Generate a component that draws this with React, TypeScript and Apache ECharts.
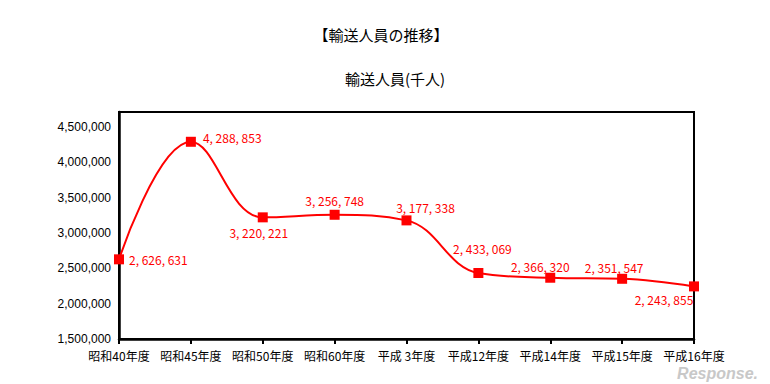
import React, { useEffect, useRef } from "react";
import * as echarts from "echarts";

const categories = ["昭和40年度", "昭和45年度", "昭和50年度", "昭和60年度", "平成 3年度", "平成12年度", "平成14年度", "平成15年度", "平成16年度"];
const passengers = [2626631, 4288853, 3220221, 3256748, 3177338, 2433069, 2366320, 2351547, 2243855];
const labelPositions: any[] = [
  { position: "right", offset: [0, 0] },
  { position: "right", offset: [2, -4] },
  { position: "bottom", offset: [-4, -1] },
  { position: "top", offset: [0, 2] },
  { position: "top", offset: [19, 3] },
  { position: "top", offset: [4, -9] },
  { position: "top", offset: [-10, 5] },
  { position: "top", offset: [-8, 5] },
  { position: "bottom", offset: [-30, -3] },
];

const fmt = (v: number) => v.toLocaleString("en-US").replace(/,/g, ", ");

export default function App() {
  const ref = useRef<HTMLDivElement>(null);
  useEffect(() => {
    const chart = echarts.init(ref.current!, null, { renderer: "svg" });
    chart.setOption({
      animation: false,
      backgroundColor: "#fff",
      title: [
        {
          text: "【輸送人員の推移】",
          left: 376,
          top: 22,
          textAlign: "center",
          textStyle: { fontFamily: "Noto Sans CJK JP", fontSize: 15, fontWeight: "normal", color: "#000" },
        },
        {
          text: "輸送人員(千人)",
          left: 390,
          top: 66,
          textAlign: "center",
          textStyle: { fontFamily: "Noto Sans CJK JP", fontSize: 15, fontWeight: "normal", color: "#000" },
        },
      ],
      grid: { left: 119, right: 76, top: 112, bottom: 45, show: true, borderColor: "#000", borderWidth: 2, backgroundColor: "transparent" },
      xAxis: {
        type: "category",
        data: categories,
        boundaryGap: false,
        axisLine: { lineStyle: { color: "#000", width: 2.5 } },
        axisTick: { show: true, length: 5, lineStyle: { color: "#000", width: 2 } },
        axisLabel: { color: "#000", fontFamily: "Noto Sans CJK JP", fontSize: 12, margin: 10, interval: 0 },
        splitLine: { show: false },
      },
      yAxis: {
        type: "value",
        min: 1500000,
        max: 4710000,
        interval: 500000,
        axisLine: { show: true, lineStyle: { color: "#000", width: 2.5 } },
        axisTick: { show: false },
        splitLine: { show: false },
        axisLabel: {
          color: "#000",
          fontFamily: "Liberation Sans",
          fontSize: 12,
          margin: 8,
          showMaxLabel: false,
          formatter: (v: number) => v.toLocaleString("en-US"),
        },
      },
      series: [
        {
          type: "line",
          data: passengers.map((v, i) => ({
            value: v,
            label: { show: true, ...labelPositions[i] },
          })),
          smooth: 0.4,
          symbol: "rect",
          symbolSize: 10,
          lineStyle: { color: "#ff0000", width: 2 },
          itemStyle: { color: "#ff0000" },
          label: {
            show: true,
            color: "#ff0000",
            fontFamily: "Noto Sans CJK JP",
            fontSize: 12,
            formatter: (p: any) => fmt(p.value),
          },
        },
      ],
      graphic: [
        {
          type: "text",
          right: 12,
          top: 365,
          style: { text: "Response.", fill: "#c8c8c8", font: "italic bold 16px 'Liberation Sans'" },
          z: -1,
        },
      ],
    });
    return () => chart.dispose();
  }, []);
  return <div ref={ref} style={{ width: 770, height: 384, position: "absolute", left: 0, top: 0 }} />;
}
